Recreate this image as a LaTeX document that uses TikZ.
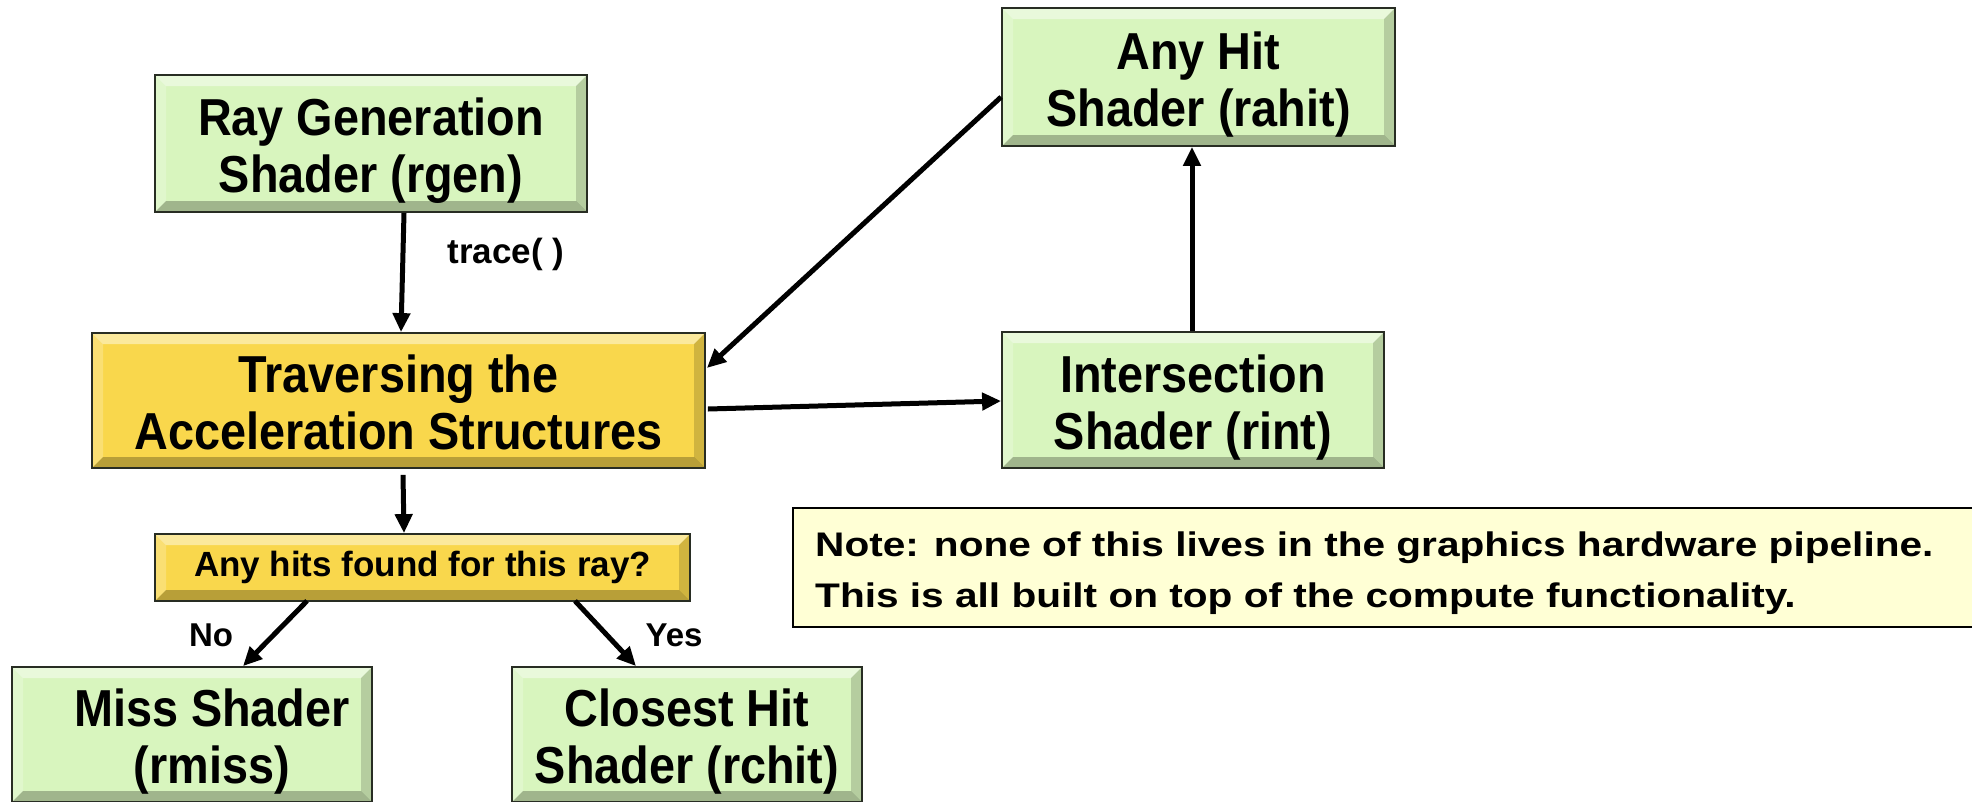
\documentclass[tikz,border=0pt]{standalone}
\usepackage{fontspec}
\setmainfont{Liberation Sans}
\newfontfamily\boxfont[FakeStretch=0.9]{Liberation Sans}
\usetikzlibrary{arrows.meta,calc}

\definecolor{shgreen}{RGB}{216,245,190}
\definecolor{travyellow}{RGB}{249,215,76}
\definecolor{notefill}{RGB}{255,255,213}
\definecolor{boxline}{RGB}{40,45,35}

% two centred lines; the first baseline sits a little above the box centre
\newcommand\shadertext[2]{\raisebox{0pt}[0pt][16pt]{\begin{tabular}[t]{@{}c@{}}#1\\#2\end{tabular}}}

\tikzset{
  bevel/.style={path picture={
    \path (path picture bounding box.south west) coordinate (bsw)
          (path picture bounding box.north east) coordinate (bne)
          (path picture bounding box.north west) coordinate (bnw)
          (path picture bounding box.south east) coordinate (bse);
    \fill[white,opacity=0.45] (bnw) -- (bne) -- ($(bne)+(-11pt,-11pt)$) -- ($(bnw)+(11pt,-11pt)$) -- cycle;
    \fill[white,opacity=0.22] (bnw) -- ($(bnw)+(11pt,-11pt)$) -- ($(bsw)+(11pt,11pt)$) -- (bsw) -- cycle;
    \fill[black,opacity=0.16] (bne) -- (bse) -- ($(bse)+(-11pt,11pt)$) -- ($(bne)+(-11pt,-11pt)$) -- cycle;
    \fill[black,opacity=0.26] (bsw) -- (bse) -- ($(bse)+(-11pt,11pt)$) -- ($(bsw)+(11pt,11pt)$) -- cycle;
  }},
  shaderbox/.style={draw=boxline, line width=1.8pt, fill=shgreen, bevel,
    inner sep=0pt, font=\boxfont\fontsize{52}{57}\selectfont\bfseries},
  travbox/.style={shaderbox, fill=travyellow},
  querybox/.style={travbox, font=\fontsize{35}{42}\selectfont\bfseries},
  notebox/.style={draw=black, line width=1.5pt, fill=notefill, inner sep=0pt},
  lbl/.style={inner sep=0pt, font=\fontsize{33}{40}\selectfont\bfseries},
  flow/.style={line width=5pt, -{Triangle[length=19pt,width=17pt]}},
}

\begin{document}
\begin{tikzpicture}[x=1pt, y=-1pt]
  \useasboundingbox[fill=white] (0,0) rectangle (1972,801);

  % shader stages
  \node[shaderbox, minimum width=432, minimum height=137] (rgen) at (371,143.5)
       {\shadertext{Ray Generation}{Shader (rgen)}};
  \node[travbox, minimum width=613, minimum height=135] (trav) at (398.5,400.5)
       {\shadertext{Traversing the}{Acceleration Structures}};
  \node[querybox, minimum width=535, minimum height=67] (hits) at (422.5,567.5)
       {Any hits found for this ray?};
  \node[shaderbox, minimum width=360, minimum height=135] (miss) at (192,734.5)
       {\hspace{40pt}\shadertext{Miss Shader}{(rmiss)}};
  \node[shaderbox, minimum width=350, minimum height=135] (chit) at (687,734.5)
       {\shadertext{Closest Hit}{Shader (rchit)}};
  \node[shaderbox, minimum width=393, minimum height=138] (ahit) at (1198.5,77)
       {\shadertext{Any Hit}{Shader (rahit)}};
  \node[shaderbox, minimum width=382, minimum height=136] (rint) at (1193,400)
       {\shadertext{Intersection}{Shader (rint)}};

  % note panel
  \node[notebox, anchor=north west, minimum width=1184, minimum height=119] (note) at (792,507) {};
  \node[anchor=base west, inner sep=0pt] (notetext) at (815,556)
       {\scalebox{1}[0.84]{\fontsize{40.6}{61}\selectfont\bfseries
        \begin{tabular}[t]{@{}l@{}}
        Note: none of this lives in the graphics hardware pipeline.\\
        This is all built on top of the compute functionality.
        \end{tabular}}};

  % connectors
  \draw[flow] ([xshift=33pt]rgen.south) -- ([xshift=2.5pt]trav.north);
  \draw[flow] ([xshift=4.5pt,yshift=-6pt]trav.south) -- ([xshift=-18.5pt]hits.north);
  \draw[flow] ([xshift=-115.5pt,yshift=1pt]hits.south) -- ([xshift=51pt]miss.north);
  \draw[flow] ([xshift=152.5pt,yshift=1pt]hits.south) -- ([xshift=-51pt]chit.north);
  \draw[flow] ([xshift=2pt,yshift=-8.5pt]trav.east) -- ([yshift=-1pt]rint.west);
  \draw[flow] ([xshift=-1pt]rint.north) -- ([xshift=-6.5pt]ahit.south);
  \draw[flow] ([yshift=-20pt]ahit.west) -- ([xshift=1pt,yshift=32.5pt]trav.east);

  % labels
  \node[lbl, font=\fontsize{35}{40}\selectfont\bfseries, anchor=base] (tracelbl) at (506,263) {trace( )};
  \node[lbl] (nolbl) at (211,635) {No};
  \node[lbl] (yeslbl) at (674,635) {Yes};
\end{tikzpicture}
\end{document}
